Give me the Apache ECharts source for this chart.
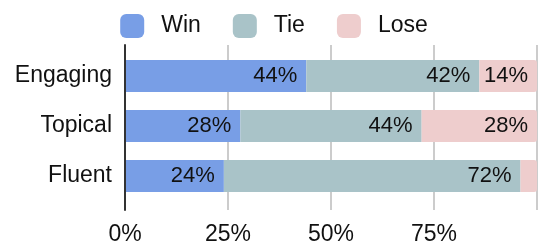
<!DOCTYPE html>
<html><head><meta charset="utf-8">
<script src="https://cdn.jsdelivr.net/npm/echarts@6/dist/echarts.min.js"></script>
<style>html,body{margin:0;padding:0;background:#fff}#c{width:548px;height:252px}</style>
</head><body><div id="c"></div>
<script>
const categories = ['Engaging', 'Topical', 'Fluent'];
const winValues = [44, 28, 24];
const tieValues = [42, 44, 72];
const loseValues = [14, 28, 4];
const seriesNames = ['Win', 'Tie', 'Lose'];
const xTicks = [0, 25, 50, 75, 100];

const FONT = '"Liberation Sans", Arial, Helvetica, sans-serif';
const colors = ['#789ee6', '#a9c3c8', '#eecdcd'];
const chart = echarts.init(document.getElementById('c'), null, {renderer: 'canvas'});

const lbl = {
  show: true, position: 'insideRight', distance: 9,
  fontFamily: FONT, fontSize: 22, color: '#111',
  formatter: p => p.value >= 8 ? p.value + '%' : ''
};
function mk(name, data, i, radius) {
  return {
    name, type: 'bar', stack: 'all', xAxisIndex: 1, yAxisIndex: 1,
    data, barWidth: 32,
    itemStyle: {color: colors[i], borderRadius: radius},
    label: lbl, emphasis: {disabled: true}
  };
}
chart.setOption({
  animation: false,
  color: colors,
  legend: {
    top: 9, left: 'center',
    itemWidth: 24, itemHeight: 24, itemGap: 32, icon: 'roundRect',
    textStyle: {fontFamily: FONT, fontSize: 23, color: '#111', padding: [0, 0, 0, 12]},
    data: seriesNames
  },
  grid: [
    {left: 125, right: 11, top: 45, bottom: 42},
    {left: 125, right: 11, top: 51, bottom: 51}
  ],
  xAxis: [
    {type: 'value', gridIndex: 0, min: xTicks[0], max: xTicks[xTicks.length - 1], interval: 25,
     axisLine: {show: false}, axisTick: {show: false},
     splitLine: {show: true, lineStyle: {color: '#cccccc', width: 2}},
     axisLabel: {fontFamily: FONT, fontSize: 23, color: '#111', margin: 13,
       formatter: v => v === 100 ? '' : v + '%'}},
    {type: 'value', gridIndex: 1, min: 0, max: 100, show: false}
  ],
  yAxis: [
    {type: 'value', gridIndex: 0, axisLabel: {show: false}, axisTick: {show: false},
     splitLine: {show: false}, z: 5,
     axisLine: {show: true, lineStyle: {color: '#333', width: 2}}},
    {type: 'category', gridIndex: 1, data: categories, inverse: true,
     axisLine: {show: false}, axisTick: {show: false},
     axisLabel: {fontFamily: FONT, fontSize: 23, color: '#111', margin: 13}}
  ],
  series: [
    mk('Win', winValues, 0, 0),
    mk('Tie', tieValues, 1, 0),
    mk('Lose', loseValues, 2, [0, 3, 3, 0])
  ]
});
</script></body></html>
